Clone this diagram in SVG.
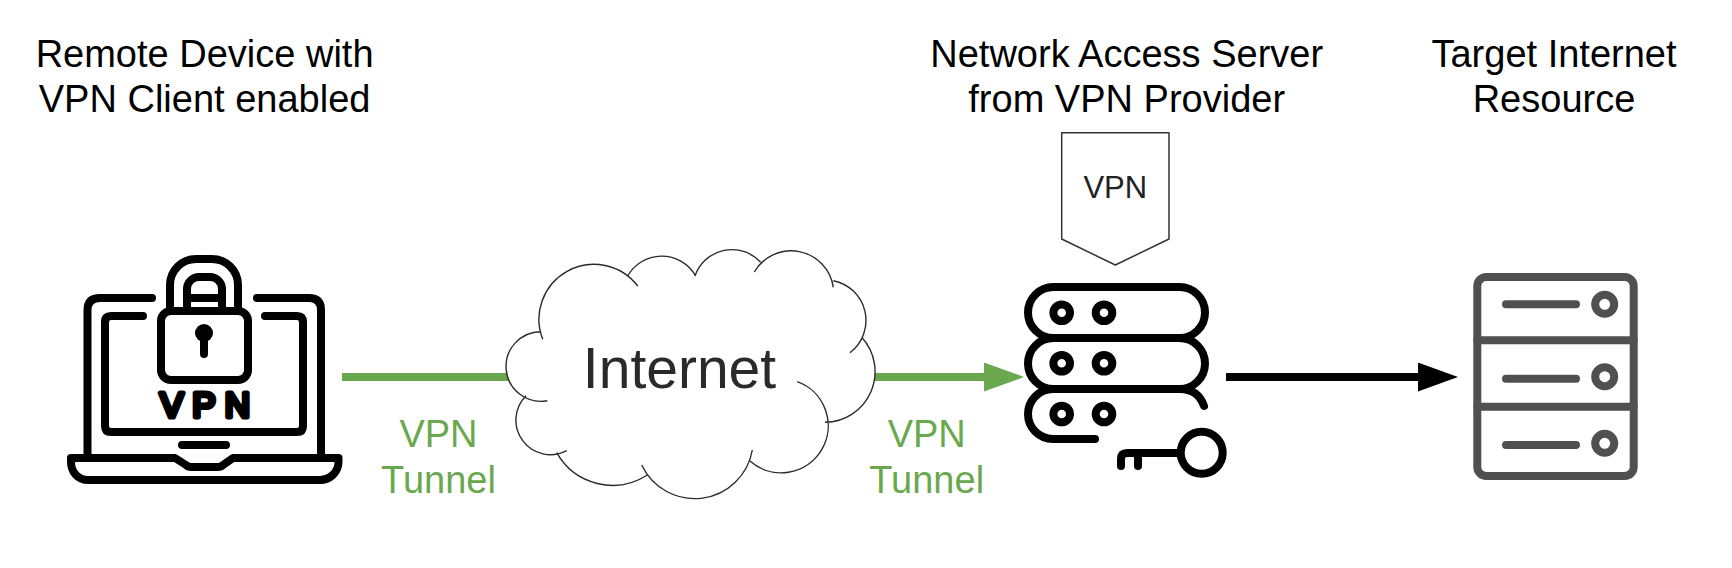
<svg xmlns="http://www.w3.org/2000/svg" width="1732" height="568" viewBox="0 0 1732 568">
<style>
text{font-family:"Liberation Sans",Arial,sans-serif;text-anchor:middle}
.lbl{font-size:38px;fill:#000}
.grn{font-size:38px;fill:#6AA84F}
.ico{fill:none;stroke:#000;stroke-width:8;stroke-linecap:round;stroke-linejoin:round}
.srv{fill:none;stroke:#505050;stroke-width:8;stroke-linecap:round;stroke-linejoin:round}
.cl{fill:none;stroke:#2b2b2b;stroke-width:1.400;stroke-linecap:butt}
</style>
<defs>
<marker id="ah-g" viewBox="0 0 40 29" refX="0" refY="14.5" markerWidth="40" markerHeight="29" markerUnits="userSpaceOnUse" orient="auto"><path d="M0 0L40 14.5L0 29Z" fill="#6AA84F"/></marker>
<marker id="ah-k" viewBox="0 0 40 29" refX="0" refY="14.5" markerWidth="40" markerHeight="29" markerUnits="userSpaceOnUse" orient="auto"><path d="M0 0L40 14.5L0 29Z" fill="#000"/></marker>
</defs>
<rect width="1732" height="568" fill="#fff"/>
<g id="connectors">
<line x1="342" y1="377" x2="984" y2="377" stroke="#6AA84F" stroke-width="8" marker-end="url(#ah-g)"/>
<line x1="1226" y1="377" x2="1418" y2="377" stroke="#000" stroke-width="8" marker-end="url(#ah-k)"/>
</g>
<g id="remote-device">
<path class="ico" d="M152 298H100Q87.500 298 87.500 310V458M257 298H309Q321 298 321 310V458"/>
<path class="ico" d="M143 316H111Q105 316 105 322V426Q105 432 111 432H297Q303 432 303 426V322Q303 316 297 316H265"/>
<path class="ico" d="M170 311V285A26 26 0 0 1 196 259H212A26 26 0 0 1 238 285V311M187 311V289A12 12 0 0 1 199 277H210A12 12 0 0 1 222 289V311M187 298H222"/>
<rect class="ico" x="161" y="311" width="87" height="69" rx="10"/>
<circle cx="204" cy="333" r="9" fill="#000"/>
<path class="ico" d="M204 333V354"/>
<text x="209.500" y="416.500" font-size="35" fill="#000" stroke="#000" stroke-width="5" stroke-linejoin="round" letter-spacing="9">VPN</text>
<path class="ico" d="M182 445H226"/>
<path class="ico" d="M71 458H175L186 465Q188 467 191 467H218Q221 467 223 465L233 458H338.500V462C338.500 472 330 480 320 480H88C78 480 71 472 71 462Z"/>
<text class="lbl" x="204.600" y="66.500">Remote Device with</text>
<text class="lbl" x="204.600" y="111.500">VPN Client enabled</text>
</g>
<g id="internet-cloud">
<path fill="#fff" d="M542.700 339.300A55 55 0 0 1 637.700 286L627.300 276.700A39 39 0 0 1 695.700 276A39 39 0 0 1 760.700 262.300L754.300 272A42.600 42.600 0 0 1 833.300 287.300V280.700A40.500 40.500 0 0 1 850 352.700L861.700 337.300A50.700 50.700 0 0 1 825 422.300A47 47 0 0 1 750 461L752.300 450A58.500 58.500 0 0 1 641.700 465L647.300 475A64 64 0 0 1 556.700 452.700L566.700 450.700A34.600 34.600 0 0 1 526 395.700L547.300 400.700A34.800 34.800 0 1 1 540.700 331.700Z"/>
<path class="cl" d="M542.700 339.300A55 55 0 0 1 637.700 286M627.300 276.700A39 39 0 0 1 695.700 276M695 276A39 39 0 0 1 760.700 262.300M754.300 272A42.600 42.600 0 0 1 833.300 287.300M833.300 280.700A40.500 40.500 0 0 1 850 352.700M861.700 337.300A50.700 50.700 0 0 1 825 422.300M797.300 381.700A47 47 0 1 1 750 461M752.300 450A58.500 58.500 0 0 1 641.700 465M647.300 475A64 64 0 0 1 556.700 452.700M566.700 450.700A34.600 34.600 0 0 1 526 395.700M547.300 400.700A34.800 34.800 0 1 1 540.700 331.700"/>
<text x="679.500" y="387.500" font-size="57" fill="#2a2a2a">Internet</text>
</g>
<g id="tunnel-label-1">
<text class="grn" x="438.500" y="447">VPN</text>
<text class="grn" x="438.500" y="492.500">Tunnel</text>
</g>
<g id="tunnel-label-2">
<text class="grn" x="926.700" y="447">VPN</text>
<text class="grn" x="926.700" y="492.500">Tunnel</text>
</g>
<g id="vpn-provider-server">
<path d="M1061.700 132.700H1169V239L1115.300 265L1061.700 239Z" fill="#fff" stroke="#333" stroke-width="1.500" stroke-linejoin="round"/>
<text x="1115.300" y="197.500" font-size="31" fill="#222">VPN</text>
<rect class="ico" x="1028" y="287" width="177" height="51" rx="25.500"/>
<rect class="ico" x="1028" y="338" width="177" height="51" rx="25.500"/>
<path class="ico" d="M1204 406Q1198 389 1180 389H1053A25 25 0 0 0 1053 439H1095"/>
<g class="ico">
<circle cx="1061.700" cy="312.700" r="8.300"/><circle cx="1104" cy="312.700" r="8.300"/>
<circle cx="1061.700" cy="363.300" r="8.300"/><circle cx="1104" cy="363.300" r="8.300"/>
<circle cx="1061.700" cy="414" r="8.300"/><circle cx="1104" cy="414" r="8.300"/>
<circle cx="1201.700" cy="452.700" r="21"/>
<path d="M1180 453H1127Q1121 453 1121 459V466M1138 453V466"/>
</g>
<text class="lbl" x="1126.700" y="66.500">Network Access Server</text>
<text class="lbl" x="1126.700" y="111.500">from VPN Provider</text>
</g>
<g id="target-resource">
<rect class="srv" x="1477.300" y="277" width="156.400" height="199" rx="9"/>
<path class="srv" d="M1477.300 340.300H1633.700M1477.300 406.700H1633.700M1506 304.300H1576M1506 378.700H1576M1506 445H1576"/>
<circle class="srv" cx="1604.700" cy="304.300" r="9.500"/>
<circle class="srv" cx="1604.700" cy="376.700" r="9.500"/>
<circle class="srv" cx="1604.700" cy="443.300" r="9.500"/>
<text class="lbl" x="1554" y="66.500">Target Internet</text>
<text class="lbl" x="1554" y="111.500">Resource</text>
</g>
</svg>
